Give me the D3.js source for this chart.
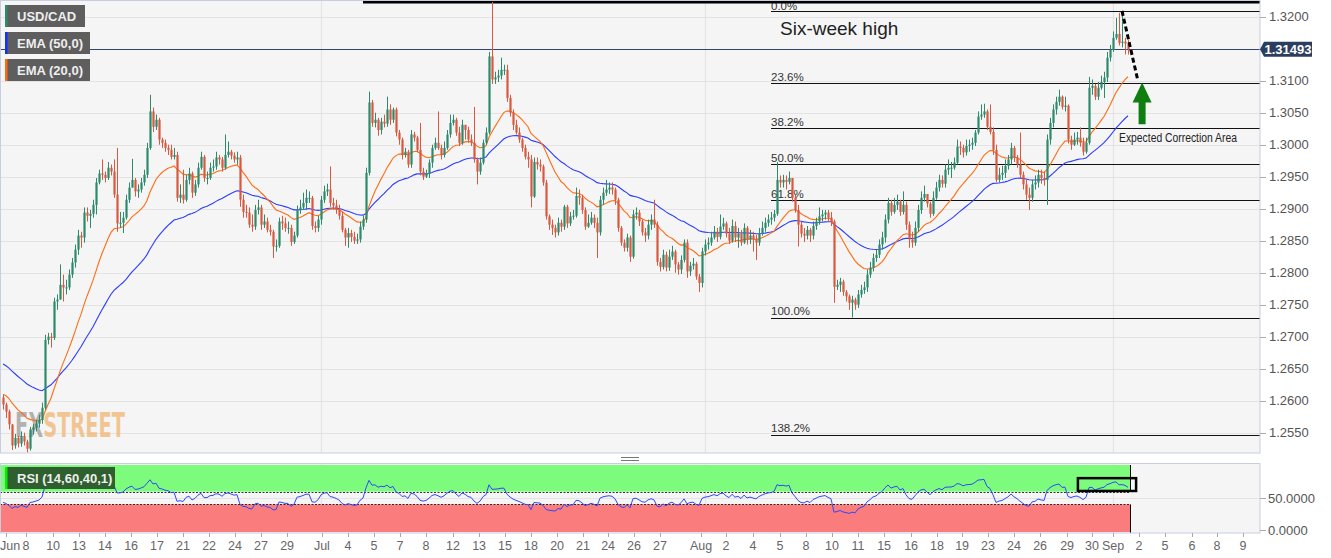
<!DOCTYPE html>
<html><head><meta charset="utf-8">
<script src="https://cdn.jsdelivr.net/npm/d3@7"></script>
<style>
html,body{margin:0;padding:0;background:#fff;}
svg{display:block;font-family:"Liberation Sans",Arial,sans-serif;}
</style></head><body>
<svg id="c" width="1331" height="558"></svg>
<script>
// ---------------- DATA ----------------
const symbol = "USD/CAD";
const firstOpen = 1.2605;
const close = [
1.2594,1.2583,1.2563,1.2530,1.2542,1.2533,1.2545,1.2536,1.2525,1.2555,
1.2558,1.2564,1.2570,1.2589,1.2695,1.2700,1.2698,1.2755,1.2758,1.2781,
1.2777,1.2777,1.2797,1.2816,1.2836,1.2858,1.2855,1.2894,1.2889,1.2892,
1.2906,1.2941,1.2955,1.2953,1.2948,1.2964,1.2958,1.2922,1.2877,1.2878,
1.2886,1.2914,1.2933,1.2945,1.2927,1.2930,1.2941,1.2953,1.2995,1.3052,
1.3028,1.3039,1.3008,1.3003,1.2995,1.2992,1.2981,1.2984,1.2917,1.2922,
1.2914,1.2945,1.2955,1.2925,1.2938,1.2964,1.2981,1.2948,1.2948,1.2964,
1.2966,1.2980,1.2977,1.2964,1.2984,1.2989,1.2983,1.2977,1.2980,1.2914,
1.2895,1.2894,1.2875,1.2872,1.2898,1.2902,1.2875,1.2880,1.2867,1.2864,
1.2841,1.2842,1.2880,1.2877,1.2870,1.2870,1.2848,1.2858,1.2898,1.2902,
1.2909,1.2917,1.2917,1.2873,1.2870,1.2883,1.2914,1.2927,1.2930,1.2909,
1.2905,1.2898,1.2889,1.2867,1.2855,1.2862,1.2856,1.2850,1.2852,1.2872,
1.2883,1.2956,1.3066,1.3034,1.3039,1.3023,1.3036,1.3033,1.3055,1.3039,
1.3055,1.3019,1.3008,1.2984,1.2989,1.2969,1.3016,1.3011,1.2992,1.2958,
1.2950,1.2955,1.2972,1.2995,1.3003,1.2995,1.2984,1.2995,1.3016,1.3034,
1.3039,1.3019,1.3003,1.3031,1.3023,1.3008,1.3003,1.2977,1.2958,1.2972,
1.3003,1.3019,1.3138,1.3102,1.3105,1.3108,1.3117,1.3117,1.3073,1.3050,
1.3031,1.3019,1.3008,1.2995,1.2981,1.2977,1.2919,1.2973,1.2969,1.2966,
1.2941,1.2888,1.2875,1.2870,1.2863,1.2878,1.2872,1.2903,1.2877,1.2888,
1.2889,1.2920,1.2917,1.2898,1.2872,1.2878,1.2886,1.2878,1.2863,1.2914,
1.2925,1.2930,1.2933,1.2930,1.2914,1.2870,1.2847,1.2839,1.2855,1.2825,
1.2891,1.2894,1.2880,1.2863,1.2858,1.2875,1.2883,1.2875,1.2817,1.2809,
1.2828,1.2808,1.2825,1.2833,1.2813,1.2805,1.2820,1.2847,1.2802,1.2811,
1.2814,1.2794,1.2784,1.2833,1.2844,1.2847,1.2855,1.2864,1.2856,1.2872,
1.2877,1.2861,1.2850,1.2873,1.2855,1.2861,1.2847,1.2870,1.2852,1.2858,
1.2852,1.2847,1.2861,1.2870,1.2878,1.2883,1.2886,1.2892,1.2945,1.2941,
1.2945,1.2942,1.2948,1.2917,1.2898,1.2875,1.2861,1.2858,1.2867,1.2858,
1.2873,1.2880,1.2888,1.2891,1.2894,1.2886,1.2880,1.2778,1.2781,1.2786,
1.2770,1.2763,1.2753,1.2758,1.2750,1.2766,1.2773,1.2777,1.2797,1.2808,
1.2823,1.2828,1.2844,1.2855,1.2883,1.2909,1.2895,1.2906,1.2911,1.2895,
1.2906,1.2875,1.2852,1.2847,1.2870,1.2898,1.2917,1.2923,1.2908,1.2892,
1.2917,1.2933,1.2945,1.2939,1.2961,1.2964,1.2964,1.2972,1.2997,1.2995,
1.2988,1.2998,1.3000,1.3003,1.3019,1.3044,1.3047,1.3052,1.3028,1.3020,
1.2992,1.2945,1.2953,1.2956,1.2967,1.2977,1.2995,1.2980,1.2969,1.2953,
1.2938,1.2922,1.2917,1.2938,1.2941,1.2953,1.2948,1.2945,1.3008,1.3034,
1.3055,1.3067,1.3075,1.3059,1.3061,1.3008,1.3000,1.3008,1.3011,1.3003,
1.2989,1.3003,1.3089,1.3092,1.3075,1.3089,1.3098,1.3105,1.3136,1.3148,
1.3167,1.3173,1.3159,1.3161,1.3158,1.31493];
const high = [
1.2609,1.2597,1.2586,1.2555,1.2548,1.2545,1.2552,1.2550,1.2539,1.2559,
1.2564,1.2570,1.2578,1.2597,1.2703,1.2706,1.2706,1.2761,1.2766,1.2813,
1.2797,1.2789,1.2805,1.2823,1.2844,1.2867,1.2864,1.2902,1.2902,1.2898,
1.2914,1.2948,1.2961,1.2977,1.2958,1.2973,1.2969,1.2977,1.2995,1.2895,
1.2895,1.2922,1.2941,1.2978,1.2948,1.2938,1.2948,1.2961,1.3003,1.3078,
1.3058,1.3047,1.3042,1.3011,1.3008,1.3000,1.3000,1.2995,1.2989,1.2938,
1.2961,1.2953,1.2964,1.2958,1.2945,1.2972,1.2989,1.2984,1.2958,1.2972,
1.2977,1.2989,1.2984,1.2981,1.3016,1.3005,1.2992,1.2988,1.2989,1.2984,
1.2922,1.2906,1.2902,1.2891,1.2906,1.2914,1.2906,1.2891,1.2886,1.2875,
1.2867,1.2852,1.2886,1.2889,1.2886,1.2880,1.2875,1.2864,1.2905,1.2914,
1.2925,1.2930,1.2927,1.2920,1.2880,1.2889,1.2920,1.2936,1.2939,1.2966,
1.2917,1.2914,1.2906,1.2895,1.2870,1.2870,1.2867,1.2864,1.2861,1.2880,
1.2889,1.2964,1.3083,1.3070,1.3050,1.3042,1.3042,1.3047,1.3075,1.3063,
1.3058,1.3058,1.3023,1.3011,1.2995,1.2992,1.3023,1.3020,1.3014,1.3034,
1.2964,1.2961,1.2977,1.3000,1.3011,1.3052,1.3000,1.3005,1.3023,1.3047,
1.3047,1.3042,1.3028,1.3039,1.3031,1.3028,1.3016,1.3059,1.2980,1.2980,
1.3008,1.3027,1.3145,1.3223,1.3114,1.3117,1.3136,1.3125,1.3125,1.3078,
1.3055,1.3039,1.3027,1.3011,1.3000,1.2989,1.2984,1.2980,1.2980,1.2977,
1.2969,1.2945,1.2891,1.2883,1.2875,1.2886,1.2883,1.2906,1.2906,1.2895,
1.2898,1.2933,1.2930,1.2922,1.2902,1.2891,1.2895,1.2891,1.2886,1.2920,
1.2933,1.2945,1.2941,1.2941,1.2933,1.2917,1.2873,1.2852,1.2861,1.2858,
1.2898,1.2902,1.2898,1.2883,1.2870,1.2883,1.2891,1.2914,1.2880,1.2823,
1.2836,1.2833,1.2836,1.2842,1.2836,1.2817,1.2827,1.2852,1.2852,1.2817,
1.2823,1.2817,1.2798,1.2839,1.2852,1.2855,1.2864,1.2873,1.2870,1.2891,
1.2886,1.2880,1.2870,1.2883,1.2880,1.2870,1.2867,1.2877,1.2873,1.2867,
1.2864,1.2859,1.2870,1.2880,1.2886,1.2891,1.2895,1.2898,1.2973,1.2952,
1.2953,1.2952,1.2958,1.2948,1.2922,1.2906,1.2880,1.2870,1.2873,1.2870,
1.2880,1.2886,1.2902,1.2898,1.2898,1.2898,1.2895,1.2883,1.2789,1.2792,
1.2789,1.2773,1.2766,1.2764,1.2761,1.2773,1.2781,1.2786,1.2805,1.2817,
1.2830,1.2836,1.2852,1.2864,1.2891,1.2917,1.2914,1.2917,1.2922,1.2914,
1.2927,1.2911,1.2880,1.2864,1.2880,1.2906,1.2927,1.2936,1.2923,1.2911,
1.2927,1.2942,1.2953,1.2952,1.2969,1.2977,1.2973,1.2980,1.3008,1.3005,
1.3000,1.3008,1.3008,1.3011,1.3023,1.3052,1.3063,1.3064,1.3055,1.3063,
1.3027,1.3000,1.2964,1.2967,1.2977,1.2984,1.3003,1.2998,1.2984,1.3019,
1.2958,1.2945,1.2933,1.2945,1.2952,1.2961,1.2961,1.2958,1.3016,1.3042,
1.3063,1.3075,1.3086,1.3077,1.3075,1.3063,1.3014,1.3019,1.3020,1.3027,
1.3011,1.3011,1.3106,1.3102,1.3095,1.3098,1.3108,1.3114,1.3145,1.3156,
1.3177,1.3198,1.3206,1.3209,1.3167,1.3164];
const low = [
1.2586,1.2573,1.2555,1.2523,1.2525,1.2527,1.2528,1.2530,1.2519,1.2522,
1.2547,1.2552,1.2558,1.2564,1.2586,1.2688,1.2683,1.2695,1.2742,1.2758,
1.2755,1.2766,1.2773,1.2792,1.2808,1.2828,1.2839,1.2847,1.2880,1.2870,
1.2886,1.2891,1.2938,1.2945,1.2941,1.2945,1.2952,1.2917,1.2864,1.2870,
1.2862,1.2883,1.2909,1.2933,1.2919,1.2917,1.2925,1.2936,1.2948,1.2992,
1.3020,1.3023,1.3000,1.2995,1.2989,1.2984,1.2977,1.2977,1.2911,1.2909,
1.2908,1.2911,1.2938,1.2917,1.2920,1.2933,1.2961,1.2942,1.2938,1.2945,
1.2958,1.2961,1.2969,1.2958,1.2961,1.2980,1.2977,1.2972,1.2969,1.2903,
1.2886,1.2886,1.2870,1.2864,1.2867,1.2891,1.2867,1.2870,1.2863,1.2858,
1.2823,1.2833,1.2839,1.2867,1.2864,1.2861,1.2842,1.2845,1.2855,1.2892,
1.2898,1.2898,1.2909,1.2867,1.2863,1.2864,1.2875,1.2909,1.2920,1.2903,
1.2898,1.2892,1.2883,1.2863,1.2842,1.2839,1.2848,1.2845,1.2845,1.2847,
1.2867,1.2878,1.2952,1.3028,1.3027,1.3014,1.3016,1.3027,1.3028,1.3031,
1.3034,1.3013,1.3000,1.2977,1.2980,1.2964,1.2964,1.3005,1.2988,1.2952,
1.2945,1.2948,1.2948,1.2964,1.2992,1.2992,1.2977,1.2980,1.2992,1.3011,
1.3030,1.3014,1.2998,1.3000,1.3008,1.3003,1.2998,1.2972,1.2938,1.2953,
1.2969,1.3000,1.3016,1.3095,1.3095,1.3098,1.3102,1.3109,1.3067,1.3044,
1.3023,1.3016,1.3003,1.2989,1.2977,1.2964,1.2902,1.2917,1.2961,1.2958,
1.2936,1.2883,1.2867,1.2859,1.2855,1.2858,1.2864,1.2867,1.2870,1.2873,
1.2883,1.2886,1.2906,1.2892,1.2867,1.2870,1.2875,1.2870,1.2823,1.2858,
1.2906,1.2920,1.2923,1.2922,1.2906,1.2864,1.2842,1.2833,1.2833,1.2817,
1.2822,1.2883,1.2873,1.2858,1.2848,1.2852,1.2867,1.2870,1.2811,1.2802,
1.2805,1.2802,1.2803,1.2820,1.2800,1.2797,1.2798,1.2816,1.2792,1.2795,
1.2805,1.2789,1.2770,1.2777,1.2827,1.2836,1.2842,1.2852,1.2848,1.2852,
1.2867,1.2855,1.2845,1.2847,1.2848,1.2839,1.2842,1.2845,1.2844,1.2845,
1.2833,1.2820,1.2842,1.2858,1.2864,1.2872,1.2875,1.2880,1.2889,1.2933,
1.2933,1.2930,1.2938,1.2911,1.2894,1.2841,1.2855,1.2848,1.2852,1.2848,
1.2852,1.2867,1.2875,1.2880,1.2883,1.2880,1.2873,1.2753,1.2773,1.2770,
1.2764,1.2755,1.2742,1.2730,1.2742,1.2745,1.2761,1.2767,1.2770,1.2792,
1.2802,1.2817,1.2823,1.2836,1.2847,1.2877,1.2889,1.2892,1.2898,1.2889,
1.2891,1.2867,1.2839,1.2839,1.2842,1.2864,1.2892,1.2911,1.2902,1.2886,
1.2889,1.2914,1.2927,1.2933,1.2933,1.2953,1.2948,1.2961,1.2969,1.2984,
1.2980,1.2983,1.2989,1.2992,1.2998,1.3016,1.3039,1.3042,1.3023,1.3016,
1.2984,1.2941,1.2941,1.2945,1.2948,1.2961,1.2969,1.2973,1.2964,1.2948,
1.2930,1.2914,1.2898,1.2911,1.2930,1.2933,1.2939,1.2936,1.2906,1.3000,
1.3027,1.3047,1.3061,1.3055,1.3052,1.3002,1.2992,1.2998,1.3000,1.2997,
1.2983,1.2986,1.3000,1.3078,1.3070,1.3070,1.3086,1.3073,1.3098,1.3130,
1.3145,1.3164,1.3155,1.3152,1.3141,1.3141];

const ema20Seed = 1.2612, ema50Seed = 1.2660;
const rsiSeedGain = 0.0009, rsiSeedLoss = 0.0011;
const priceTicks = [1.2550,1.2600,1.2650,1.2700,1.2750,1.2800,1.2850,1.2900,1.2950,1.3000,1.3050,1.3100,1.3150,1.3200];
const rsiTicks = [0, 50];
const rsiUpper = 60, rsiLower = 40;
const fibHigh = 1.3209, fibLow = 1.2730, fibStartIdx = 256;
const fibLevels = [0, 0.236, 0.382, 0.5, 0.618, 1.0, 1.382];
const fibLabels = ["0.0%","23.6%","38.2%","50.0%","61.8%","100.0%","138.2%"];
const resistanceLevel = 1.3223, resistanceStartIdx = 120;
const lastPrice = 1.31493;
const xTickLabels = ["Jun","8","10","13","14","16","17","21","22","24","27","29","Jul","4","5","7","8","12","13","15","18","20","21","24","26","27","Aug","2","4","5","8","10","11","15","16","18","19","23","24","26","29","30","Sep","2","5","6","8","9"];
const xTickIdx = [1,7.7,16.7,25.3,34,42.7,51.3,60,68.7,77.3,86,94.7,106.3,115,123.7,132.3,141,150,158.7,167.3,176,184.7,193.3,201.7,210.3,219,232.7,241,250,259,267.7,276.3,285,293.7,302.7,311.3,319.7,328.3,337,345.7,354.7,363,370,378.7,387.3,396.3,404.7,413.3];
const monthIdx = [106, 234, 370];
const projection = [{i:373, p:1.3209},{i:378.3, p:1.3100}];
const arrowIdx = 379.7, arrowTop = 1.3097, arrowBottom = 1.3032;
const rsiBox = {i0:358.3, i1:377.7, r0:61, r1:81};
const legendItems = [{t:"USD/CAD", c:"#2e8a6c", w:80},{t:"EMA (50,0)", c:"#1230ff", w:85},{t:"EMA (20,0)", c:"#ff6a10", w:85}];

// ---------------- SCALES ----------------
const svg = d3.select("#c");
const R = 1260, mainB = 453, rsiT = 463, rsiB = 533;
const x = d3.scaleLinear().domain([0, 419]).range([3, 1260]);
const y = d3.scaleLinear().domain([1.32, 1.25]).range([16.7, 464.7]);
const yr = d3.scaleLinear().domain([0, 100]).range([530, 466]);
const GREEN = "#2e8a6c", RED = "#d9583f", GRID = "#e3e3e3", BORDER = "#c8cee2";

const defs = svg.append("defs");
defs.append("clipPath").attr("id","cm").append("rect").attr("x",0).attr("y",0).attr("width",R).attr("height",mainB);
defs.append("clipPath").attr("id","cr").append("rect").attr("x",0).attr("y",rsiT).attr("width",R).attr("height",rsiB-rsiT);
const wmGrad = defs.append("linearGradient").attr("id","wmg").attr("x1","0").attr("x2","1").attr("y1","0").attr("y2","0");
[[0,"#9a9a9a"],[0.255,"#9a9a9a"],[0.255,"#f0b572"],[1,"#f0b572"]].forEach(s=>wmGrad.append("stop").attr("offset",s[0]).attr("stop-color",s[1]));

// backgrounds
svg.append("rect").attr("x",0).attr("y",0).attr("width",R).attr("height",mainB).attr("fill","#f5f5f5");
svg.append("rect").attr("x",0).attr("y",rsiT).attr("width",R).attr("height",rsiB-rsiT).attr("fill","#f5f5f5");

const gm = svg.append("g").attr("clip-path","url(#cm)");
// grid
gm.selectAll("line.hg").data(priceTicks).join("line")
  .attr("x1",0).attr("x2",R).attr("y1",d=>Math.round(y(d))+0.5).attr("y2",d=>Math.round(y(d))+0.5)
  .attr("stroke",GRID).attr("stroke-width",1.2);
gm.selectAll("line.vg").data(monthIdx).join("line")
  .attr("x1",d=>Math.round(x(d))+0.5).attr("x2",d=>Math.round(x(d))+0.5).attr("y1",0).attr("y2",mainB)
  .attr("stroke",GRID).attr("stroke-width",1.2);

// watermark
gm.append("text").attr("x",15).attr("y",y(1.2544)).attr("font-size",34).attr("font-weight","bold")
  .attr("font-family","'Liberation Sans Narrow','DejaVu Sans Condensed',sans-serif").attr("textLength",110).attr("lengthAdjust","spacingAndGlyphs")
  .attr("fill","url(#wmg)").attr("fill-opacity",0.75).text("FXSTREET");

// fib levels
const fib = fibLevels.map((l,k)=>({p: fibHigh - l*(fibHigh-fibLow), t: fibLabels[k]}));
gm.selectAll("line.fib").data(fib).join("line")
  .attr("x1",x(fibStartIdx)).attr("x2",R).attr("y1",d=>Math.round(y(d.p))+0.5).attr("y2",d=>Math.round(y(d.p))+0.5)
  .attr("stroke","#111").attr("stroke-width",1.2);
gm.selectAll("text.fib").data(fib).join("text")
  .attr("x",x(fibStartIdx)).attr("y",d=>Math.max(10, y(d.p)-2.5)).attr("font-size",11.5).attr("fill","#333").text(d=>d.t);

// resistance line (drawn over the 0.0% label like the reference)
gm.append("line").attr("x1",x(resistanceStartIdx)).attr("x2",R).attr("y1",y(resistanceLevel)).attr("y2",y(resistanceLevel))
  .attr("stroke","#000").attr("stroke-width",3);

// last price line
gm.append("line").attr("x1",0).attr("x2",R).attr("y1",Math.round(y(lastPrice))+0.5).attr("y2",Math.round(y(lastPrice))+0.5)
  .attr("stroke","#34466b").attr("stroke-width",1.2);

// EMAs
function ema(seed, n){ const k = 2/(n+1); let e = seed; return close.map(c => (e = e + k*(c-e))); }
const e20 = ema(ema20Seed, 20), e50 = ema(ema50Seed, 50);
const line = d3.line().x((d,i)=>x(i)).y(d=>y(d));
gm.append("path").attr("d",line(e50)).attr("fill","none").attr("stroke","#2a3dff").attr("stroke-width",1.1);
gm.append("path").attr("d",line(e20)).attr("fill","none").attr("stroke","#ff6c12").attr("stroke-width",1.1);

// candles
const candles = close.map((c,i)=>{const o = i? close[i-1] : firstOpen; return {i,o,c,h:Math.max(high[i],o,c),l:Math.min(low[i],o,c)};});
const cg = gm.append("g");
cg.selectAll("rect.w").data(candles).join("rect")
  .attr("x",d=>x(d.i)).attr("width",1).attr("y",d=>y(d.h)).attr("height",d=>Math.max(1,y(d.l)-y(d.h)))
  .attr("fill",d=>d.c>=d.o?GREEN:RED);
cg.selectAll("rect.b").data(candles).join("rect")
  .attr("x",d=>x(d.i)-0.6).attr("width",2.2)
  .attr("y",d=>y(Math.max(d.o,d.c))).attr("height",d=>Math.max(1,Math.abs(y(d.o)-y(d.c))))
  .attr("fill",d=>d.c>=d.o?GREEN:RED);

// projection dashed line
gm.append("path").attr("d",d3.line().x(d=>x(d.i)).y(d=>y(d.p))(projection))
  .attr("stroke","#000").attr("stroke-width",3).attr("stroke-dasharray","5,3").attr("fill","none");

// green arrow
{
  const ax = x(arrowIdx), yt = y(arrowTop), yb = y(arrowBottom);
  const hh = 20, hw = 9.5, sw = 3.5;
  gm.append("path").attr("d",`M${ax},${yt} L${ax+hw},${yt+hh} L${ax+sw},${yt+hh} L${ax+sw},${yb} L${ax-sw},${yb} L${ax-sw},${yt+hh} L${ax-hw},${yt+hh} Z`)
    .attr("fill","#0f7d0f");
}

// annotations
gm.append("text").attr("x",x(259)).attr("y",y(1.3171)).attr("font-size",19).attr("fill","#222").text("Six-week high");
gm.append("text").attr("x",x(372)).attr("y",y(1.3004)).attr("font-size",12.5).attr("fill","#222")
  .attr("font-family","'Liberation Sans Narrow',Arial,sans-serif").attr("textLength",118).attr("lengthAdjust","spacingAndGlyphs")
  .text("Expected Correction Area");

// legends
legendItems.forEach((d,k)=>{
  const ty = 5 + k*27;
  svg.append("rect").attr("x",5).attr("y",ty).attr("width",d.w).attr("height",22).attr("fill","#5e5e5e");
  svg.append("rect").attr("x",5).attr("y",ty).attr("width",2.5).attr("height",22).attr("fill",d.c);
  svg.append("text").attr("x",17).attr("y",ty+16).attr("font-size",13).attr("font-weight","bold").attr("fill","#eeeeee").text(d.t);
});

// borders main
svg.append("rect").attr("x",0.5).attr("y",0.5).attr("width",R-0.5).attr("height",mainB-0.5).attr("fill","none").attr("stroke",BORDER);

// right axis main (the 1.3150 label sits under the price tag, as in the reference)
const ra = svg.append("g");
ra.selectAll("line").data(priceTicks).join("line")
  .attr("x1",R).attr("x2",R+6).attr("y1",d=>Math.round(y(d))+0.5).attr("y2",d=>Math.round(y(d))+0.5).attr("stroke","#aaa");
ra.selectAll("text").data(priceTicks.filter(d=>Math.abs(y(d)-y(lastPrice))>10)).join("text")
  .attr("x",R+9).attr("y",d=>y(d)+4.5).attr("font-size",13).attr("fill","#555").text(d=>d.toFixed(4));
// price tag
{
  const py = y(lastPrice);
  svg.append("path").attr("d",`M${R},${py} L${R+4},${py-7.5} L${R+52},${py-7.5} L${R+52},${py+7.5} L${R+4},${py+7.5} Z`).attr("fill","#2b3e5e");
  svg.append("text").attr("x",R+28).attr("y",py+5).attr("text-anchor","middle").attr("font-size",13).attr("font-weight","bold").attr("fill","#fff").text(lastPrice.toFixed(5));
}

// handle
[457.5, 460.5].forEach(hy=> svg.append("line").attr("x1",621).attr("x2",639).attr("y1",hy).attr("y2",hy).attr("stroke","#777"));

// ---------------- RSI ----------------
let ag = rsiSeedGain, al = rsiSeedLoss;
const rsi = close.map((c,i)=>{const d = c - (i? close[i-1] : firstOpen); ag = (ag*13 + Math.max(d,0))/14; al = (al*13 + Math.max(-d,0))/14; return 100 - 100/(1+ag/al);});
const gr = svg.append("g").attr("clip-path","url(#cr)");
const xEnd = x(close.length-1) + 2;
gr.append("line").attr("x1",0).attr("x2",R).attr("y1",Math.round(yr(50))+0.5).attr("y2",Math.round(yr(50))+0.5).attr("stroke",GRID).attr("stroke-width",1.2);
gr.selectAll("line.vg").data(monthIdx).join("line")
  .attr("x1",d=>Math.round(x(d))+0.5).attr("x2",d=>Math.round(x(d))+0.5).attr("y1",rsiT).attr("y2",rsiB).attr("stroke",GRID).attr("stroke-width",1.2);
gr.append("rect").attr("x",0).attr("y",yr(100)-1).attr("width",xEnd).attr("height",yr(rsiUpper)-yr(100)+1).attr("fill","#7dfb7d");
gr.append("rect").attr("x",0).attr("y",yr(rsiLower)).attr("width",xEnd).attr("height",yr(0)-yr(rsiLower)+2).attr("fill","#fb7c7c");
[rsiUpper, rsiLower].forEach(v=> gr.append("line").attr("x1",0).attr("x2",xEnd).attr("y1",Math.round(yr(v))+0.5).attr("y2",Math.round(yr(v))+0.5)
  .attr("stroke","#000").attr("stroke-width",0.8).attr("stroke-dasharray","2,1.5"));
gr.append("line").attr("x1",xEnd+0.5).attr("x2",xEnd+0.5).attr("y1",yr(100)-1).attr("y2",yr(rsiUpper)).attr("stroke","#000");
gr.append("line").attr("x1",xEnd+0.5).attr("x2",xEnd+0.5).attr("y1",yr(rsiLower)).attr("y2",rsiB).attr("stroke","#000");
gr.append("line").attr("x1",0.5).attr("x2",0.5).attr("y1",yr(rsiLower)).attr("y2",rsiB).attr("stroke","#000");
gr.append("path").attr("d",d3.line().x((d,i)=>x(i)).y(d=>yr(d))(rsi)).attr("fill","none").attr("stroke","#2f47ff").attr("stroke-width",1);
gr.append("rect").attr("x",x(rsiBox.i0)).attr("y",yr(rsiBox.r1)).attr("width",x(rsiBox.i1)-x(rsiBox.i0)).attr("height",yr(rsiBox.r0)-yr(rsiBox.r1))
  .attr("fill","none").attr("stroke","#000").attr("stroke-width",2.5);
// rsi legend
svg.append("rect").attr("x",5).attr("y",467).attr("width",110).attr("height",22).attr("fill","#2f5e2f");
svg.append("rect").attr("x",5).attr("y",467).attr("width",2.5).attr("height",22).attr("fill","#00f000");
svg.append("text").attr("x",17).attr("y",483).attr("font-size",13).attr("font-weight","bold").attr("fill","#eeeeee").text("RSI (14,60,40,1)");
svg.append("rect").attr("x",0.5).attr("y",rsiT+0.5).attr("width",R-0.5).attr("height",rsiB-rsiT-0.5).attr("fill","none").attr("stroke",BORDER);
svg.selectAll("line.rt").data(rsiTicks).join("line")
  .attr("x1",R).attr("x2",R+6).attr("y1",d=>Math.round(yr(d))+0.5).attr("y2",d=>Math.round(yr(d))+0.5).attr("stroke","#aaa");
svg.selectAll("text.rt").data(rsiTicks).join("text")
  .attr("x",R+8).attr("y",d=>yr(d)+4.5).attr("font-size",13).attr("fill","#555").text(d=>d.toFixed(4));

// ---------------- X AXIS ----------------
const xt = xTickLabels.map((t,k)=>({t, i:xTickIdx[k], k}));
svg.selectAll("line.xt").data(xt).join("line")
  .attr("x1",d=>Math.round(x(d.i))+0.5).attr("x2",d=>Math.round(x(d.i))+0.5).attr("y1",rsiB).attr("y2",rsiB+4).attr("stroke","#aaa");
svg.selectAll("text.xt").data(xt).join("text")
  .attr("x",d=>d.k===0?0:x(d.i)).attr("y",550).attr("text-anchor",d=>d.k===0?"start":"middle")
  .attr("font-size",12.5).attr("fill","#666").text(d=>d.t);
</script></body></html>
